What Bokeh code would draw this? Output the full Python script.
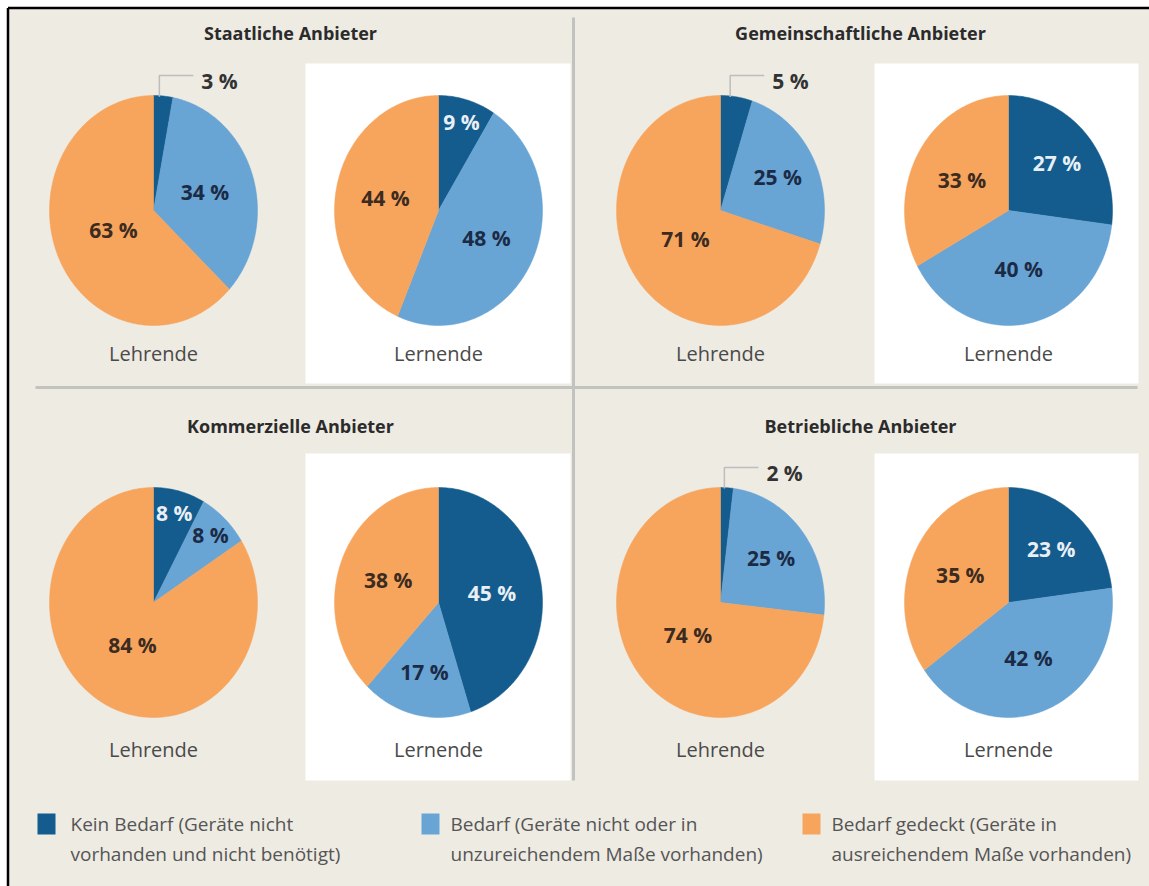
import math
from bokeh.plotting import figure
from bokeh.models import Range1d
from bokeh.core.properties import value
from bokeh.embed import file_html
from bokeh.resources import INLINE

# ---------------- data ----------------
groups = ["Staatliche Anbieter", "Gemeinschaftliche Anbieter",
          "Kommerzielle Anbieter", "Betriebliche Anbieter"]
audiences = ["Lehrende", "Lernende"]
# one entry per pie: group0-Lehrende, group0-Lernende, group1-Lehrende, ...
kein_bedarf = [3, 9, 5, 27, 8, 45, 2, 23]
bedarf = [34, 48, 25, 40, 8, 17, 25, 42]
bedarf_gedeckt = [63, 44, 71, 33, 84, 38, 74, 35]
legend_line1 = ["Kein Bedarf (Geräte nicht", "Bedarf (Geräte nicht oder in",
                "Bedarf gedeckt (Geräte in"]
legend_line2 = ["vorhanden und nicht benötigt)", "unzureichendem Maße vorhanden)",
                "ausreichendem Maße vorhanden)"]

# ---------------- style ----------------
BG = "#EEEBE3"
COLORS = ["#135C8D", "#68A4D4", "#F7A45D"]
LABEL_COLORS = ["#E9EFF5", "#1C2B45", "#3B2B20"]
FONT = "Open Sans"
W, H = 1149, 886

pie_cx = [[153, 438], [720, 1008]]   # per column: Lehrende, Lernende
row_cy = [210, 602]
title_y = [32, 425]
caption_y = [353, 749]
col_title_x = [290, 860]
panel_left = [305, 874]
panel_right = [570, 1138]
panel_top = [63, 453]
panel_bottom = [383, 780]
RX, RY = 104, 115

p = figure(width=W, height=H, output_backend="svg", toolbar_location=None,
           x_range=Range1d(0, W), y_range=Range1d(H, 0),
           x_axis_type=None, y_axis_type=None, min_border=0,
           background_fill_color="white", border_fill_color="white",
           outline_line_color=None)

# beige card
p.quad(left=[8], right=[W], top=[8], bottom=[H], fill_color=BG, line_color=None)

# white panels behind the "Lernende" pies
p.quad(left=panel_left * 2, right=panel_right * 2,
       top=[panel_top[0], panel_top[0], panel_top[1], panel_top[1]],
       bottom=[panel_bottom[0], panel_bottom[0], panel_bottom[1], panel_bottom[1]],
       fill_color="white", line_color=None)

# dividers
p.line(x=[35, 1137], y=[387, 387], line_color="#C2C2C0", line_width=3)
p.line(x=[573, 573], y=[17, 780], line_color="#C2C2C0", line_width=3)

# border (left and top)
p.line(x=[7.5, 7.5], y=[H, 7.5], line_color="black", line_width=2.5)
p.line(x=[7.5, W], y=[7.5, 7.5], line_color="black", line_width=2.5)

xs, ys, fills = [], [], []
lab_x, lab_y, lab_t, lab_c = [], [], [], []
out_x, out_y, out_t = [], [], []
lead_xs, lead_ys = [], []

for i in range(len(kein_bedarf)):
    g, a = divmod(i, 2)
    row, col = divmod(g, 2)
    cx, cy = pie_cx[col][a], row_cy[row]
    vals = [kein_bedarf[i], bedarf[i], bedarf_gedeckt[i]]
    total = float(sum(vals))
    start = 0.0
    for k, v in enumerate(vals):
        frac = v / total
        t0, t1 = start * 2 * math.pi, (start + frac) * 2 * math.pi
        n = max(3, int(frac * 360))
        px, py = [cx], [cy]
        for j in range(n + 1):
            t = t0 + (t1 - t0) * j / n
            px.append(cx + RX * math.sin(t))
            py.append(cy - RY * math.cos(t))
        xs.append(px); ys.append(py); fills.append(COLORS[k])
        mid = (t0 + t1) / 2
        if v < 6:
            lx = cx + RX * math.sin(mid) * 0.6
            top = cy - RY * math.sqrt(max(0.0, 1 - ((lx - cx) / RX) ** 2)) + 1
            ly = cy - RY - 20
            lead_xs.append([lx, lx, lx + 34])
            lead_ys.append([top, ly, ly])
            out_x.append(lx + 42); out_y.append(cy - RY - 15); out_t.append(f"{v} %")
        else:
            if v < 12:
                f = 0.8
            elif v < 30:
                f = 0.62
            elif v < 60:
                f = 0.52
            else:
                f = 0.42
            lab_x.append(cx + RX * f * math.sin(mid))
            lab_y.append(cy - RY * f * math.cos(mid))
            lab_t.append(f"{v} %")
            lab_c.append(LABEL_COLORS[k])
        start += frac

p.patches(xs=xs, ys=ys, fill_color=fills, line_color=fills, line_width=0.5)

p.multi_line(xs=lead_xs, ys=lead_ys, line_color="#BDBDBD", line_width=1.5)

p.text(x=lab_x, y=lab_y, text=lab_t, text_color=lab_c,
       text_font=value(FONT), text_font_style="bold", text_font_size="21px",
       text_align="center", text_baseline="middle")
p.text(x=out_x, y=out_y, text=out_t, text_color="#333333",
       text_font=value(FONT), text_font_style="bold", text_font_size="21px",
       text_align="left", text_baseline="middle")

# titles
tx = [col_title_x[g % 2] for g in range(len(groups))]
ty = [title_y[g // 2] for g in range(len(groups))]
p.text(x=tx, y=ty, text=groups, text_color="#2B2B2B",
       text_font=value(FONT), text_font_style="bold", text_font_size="18px",
       text_align="center", text_baseline="middle")

# captions
cap_x, cap_y, cap_t = [], [], []
for g in range(len(groups)):
    row, col = divmod(g, 2)
    for a in range(2):
        cap_x.append(pie_cx[col][a]); cap_y.append(caption_y[row]); cap_t.append(audiences[a])
p.text(x=cap_x, y=cap_y, text=cap_t, text_color="#4A4A4A",
       text_font=value(FONT), text_font_size="20px",
       text_align="center", text_baseline="middle")

# legend
leg_sq_x = [37, 421, 802]
leg_txt_x = [70, 450, 831]
p.quad(left=leg_sq_x, right=[x + 18 for x in leg_sq_x], top=[813] * 3, bottom=[834] * 3,
       fill_color=COLORS, line_color=None)
p.text(x=leg_txt_x, y=[823] * 3, text=legend_line1, text_color="#555555",
       text_font=value(FONT), text_font_size="19px",
       text_align="left", text_baseline="middle")
p.text(x=leg_txt_x, y=[853] * 3, text=legend_line2, text_color="#555555",
       text_font=value(FONT), text_font_size="19px",
       text_align="left", text_baseline="middle")

open("out.html", "w").write(file_html(p, INLINE))
